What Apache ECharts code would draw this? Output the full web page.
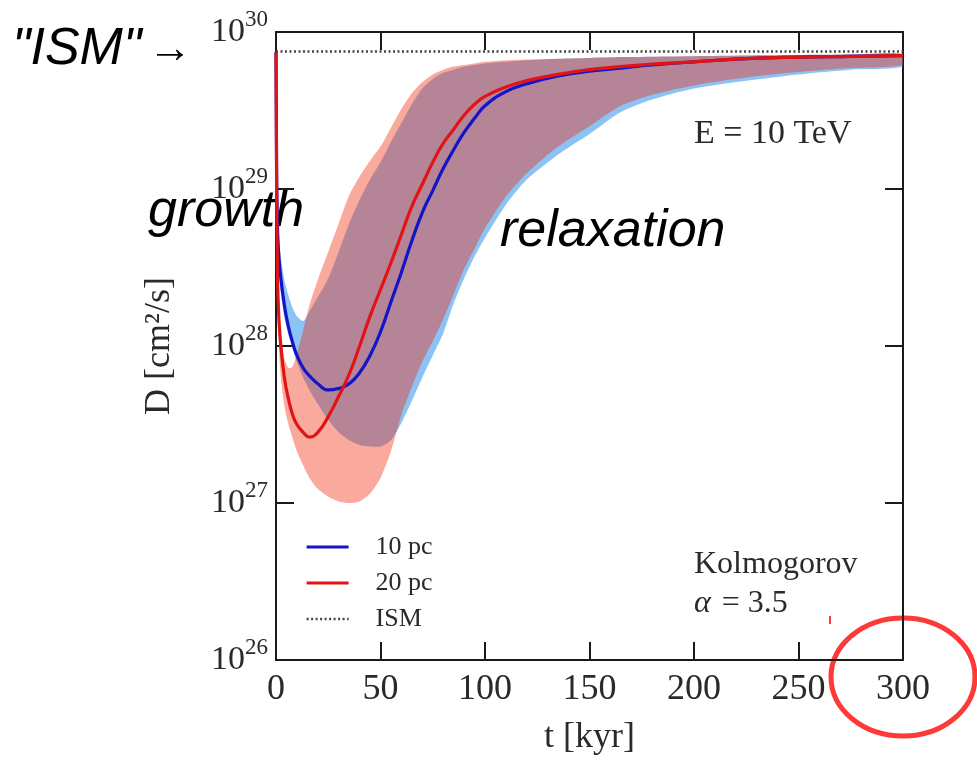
<!DOCTYPE html>
<html>
<head>
<meta charset="utf-8">
<title>Diffusion coefficient evolution</title>
<script src="https://cdn.jsdelivr.net/npm/echarts/dist/echarts.min.js"></script>
<style>
  html, body { margin: 0; padding: 0; background: #ffffff; }
  #chart { width: 977px; height: 766px; }
</style>
</head>
<body>
<div id="chart"></div>
<script>
// Time grid in kyr shared by every curve below
const tKyr = [0, 0.3, 0.6, 1, 2, 4, 6, 8, 10, 13, 16, 20, 25, 30, 35, 40, 45, 50, 55, 60, 65, 70, 75, 80, 85, 90, 95, 100, 110, 120, 135, 150, 165, 180, 200, 225, 250, 275, 300];

// log10 of D [cm^2/s] for the 10 pc case
const logD10pc = [29.87, 29.10, 28.85, 28.65, 28.47, 28.26, 28.12, 28.02, 27.94, 27.86, 27.81, 27.76, 27.72, 27.73, 27.76, 27.83, 27.94, 28.09, 28.28, 28.47, 28.67, 28.85, 28.99, 29.13, 29.25, 29.36, 29.45, 29.53, 29.62, 29.67, 29.72, 29.75, 29.77, 29.79, 29.81, 29.83, 29.84, 29.845, 29.85];
const band10pcUpper = [29.87, 29.20, 29.00, 28.80, 28.60, 28.42, 28.32, 28.24, 28.19, 28.16, 28.22, 28.31, 28.43, 28.60, 28.78, 28.93, 29.06, 29.17, 29.30, 29.42, 29.54, 29.64, 29.70, 29.74, 29.76, 29.78, 29.79, 29.80, 29.81, 29.82, 29.83, 29.835, 29.84, 29.843, 29.846, 29.85, 29.853, 29.856, 29.86];
const band10pcLower = [29.85, 29.00, 28.75, 28.55, 28.38, 28.18, 28.07, 27.98, 27.90, 27.80, 27.72, 27.63, 27.53, 27.45, 27.40, 27.37, 27.36, 27.36, 27.40, 27.51, 27.65, 27.80, 27.94, 28.08, 28.27, 28.43, 28.57, 28.69, 28.90, 29.06, 29.22, 29.35, 29.49, 29.57, 29.64, 29.69, 29.73, 29.76, 29.78];

// log10 of D [cm^2/s] for the 20 pc case
const logD20pc = [29.87, 29.00, 28.60, 28.30, 28.05, 27.80, 27.66, 27.56, 27.50, 27.45, 27.42, 27.45, 27.55, 27.68, 27.82, 28.00, 28.19, 28.36, 28.53, 28.71, 28.89, 29.03, 29.17, 29.29, 29.38, 29.47, 29.54, 29.59, 29.65, 29.69, 29.73, 29.76, 29.78, 29.795, 29.81, 29.83, 29.84, 29.845, 29.85];
const band20pcUpper = [29.87, 29.05, 28.70, 28.40, 28.12, 27.92, 27.86, 27.87, 27.95, 28.10, 28.26, 28.42, 28.60, 28.78, 28.96, 29.08, 29.18, 29.27, 29.39, 29.51, 29.61, 29.68, 29.73, 29.76, 29.78, 29.79, 29.80, 29.81, 29.82, 29.825, 29.83, 29.835, 29.84, 29.843, 29.846, 29.85, 29.853, 29.856, 29.86];
const band20pcLower = [29.85, 28.90, 28.45, 28.15, 27.85, 27.62, 27.50, 27.41, 27.33, 27.24, 27.16, 27.09, 27.04, 27.01, 27.00, 27.01, 27.06, 27.16, 27.33, 27.56, 27.74, 27.90, 28.03, 28.17, 28.33, 28.49, 28.62, 28.75, 28.95, 29.10, 29.27, 29.40, 29.53, 29.60, 29.66, 29.71, 29.745, 29.77, 29.79];

// Galactic (ISM) reference level
const ismT = [0, 300];
const ismD = [7.5e29, 7.5e29];

// Axis ticks
const xTicks = [0, 50, 100, 150, 200, 250, 300];
const yDecades = [26, 27, 28, 29, 30];

const SERIF = "'Liberation Serif', 'DejaVu Serif', serif";
const SANS = "'Liberation Sans', Arial, sans-serif";
const AXIS_COLOR = '#1a1a1a';
const TEXT_COLOR = '#2a2a2a';

const toD = (v) => Math.pow(10, v);

function linePoints(logs) {
  return tKyr.map((t, i) => [t, toD(logs[i])]);
}

function bandData(lower, upper) {
  return tKyr.map((t, i) => [t, toD(lower[i]), toD(upper[i])]);
}

// Closed outline through the upper edge and back along the lower edge
function bandRenderer(fill) {
  return function (params, api) {
    if (params.dataIndex !== 0) return null;
    const n = tKyr.length;
    const top = [];
    const bottom = [];
    for (let i = 0; i < n; i++) {
      top.push(api.coord([api.value(0, i), api.value(2, i)]));
      bottom.push(api.coord([api.value(0, i), api.value(1, i)]));
    }
    const points = top.concat(bottom.reverse());
    return {
      type: 'polygon',
      shape: { points: points, smooth: 0.25 },
      style: { fill: fill, stroke: null }
    };
  };
}

const chart = echarts.init(document.getElementById('chart'), null, { renderer: 'canvas' });

const axisLine = { show: true, onZero: false, lineStyle: { color: AXIS_COLOR, width: 2 } };
const axisTick = { show: true, inside: true, length: 18, lineStyle: { color: AXIS_COLOR, width: 2 } };

const option = {
  animation: false,
  backgroundColor: '#ffffff',
  grid: { left: 276, top: 32, width: 627, height: 628, containLabel: false },
  xAxis: [
    {
      type: 'value', min: xTicks[0], max: xTicks[xTicks.length - 1], interval: 50, position: 'bottom',
      axisLine: axisLine, axisTick: axisTick, splitLine: { show: false },
      axisLabel: { margin: 12, fontFamily: SERIF, fontSize: 36, color: TEXT_COLOR },
      name: 't [kyr]', nameLocation: 'middle', nameGap: 60,
      nameTextStyle: { fontFamily: SERIF, fontSize: 36, color: TEXT_COLOR }
    },
    {
      type: 'value', min: xTicks[0], max: xTicks[xTicks.length - 1], interval: 50, position: 'top',
      axisLine: axisLine, axisTick: axisTick, splitLine: { show: false }, axisLabel: { show: false }
    }
  ],
  yAxis: [
    {
      type: 'log', logBase: 10, min: toD(yDecades[0]), max: toD(yDecades[yDecades.length - 1]), splitNumber: 4,
      position: 'left', axisLine: axisLine, axisTick: axisTick, splitLine: { show: false },
      minorTick: { show: false },
      axisLabel: {
        margin: 8,
        formatter: (v) => '{b|10}{s|' + Math.round(Math.log10(v)) + '}',
        rich: {
          b: { fontFamily: SERIF, fontSize: 34, lineHeight: 34, color: TEXT_COLOR, verticalAlign: 'bottom' },
          s: { fontFamily: SERIF, fontSize: 23, lineHeight: 23, color: TEXT_COLOR, verticalAlign: 'bottom', padding: [0, 0, 18, 0] }
        }
      },
      name: 'D [cm²/s]', nameLocation: 'middle', nameRotate: 90, nameGap: 98,
      nameTextStyle: { fontFamily: SERIF, fontSize: 36, color: TEXT_COLOR }
    },
    {
      type: 'log', logBase: 10, min: toD(yDecades[0]), max: toD(yDecades[yDecades.length - 1]), splitNumber: 4,
      position: 'right', axisLine: axisLine, axisTick: axisTick, splitLine: { show: false },
      minorTick: { show: false }, axisLabel: { show: false }
    }
  ],
  legend: {
    data: [
      { name: '10 pc', lineStyle: { width: 3.2 } },
      { name: '20 pc', lineStyle: { width: 3.2 } },
      { name: 'ISM', lineStyle: { width: 2.5 } }
    ],
    orient: 'vertical', left: 300, top: 529, itemWidth: 42, itemHeight: 14, itemGap: 10,
    itemStyle: { opacity: 0, borderWidth: 0 },
    textStyle: { fontFamily: SERIF, fontSize: 26, color: TEXT_COLOR, padding: [0, 0, 0, 22] },
    selectedMode: false
  },
  series: [
    {
      type: 'custom', xAxisIndex: 0, yAxisIndex: 0, z: 1, silent: true, clip: true,
      renderItem: bandRenderer('rgba(25, 135, 235, 0.5)'),
      encode: { x: 0, y: [1, 2] },
      data: bandData(band10pcLower, band10pcUpper)
    },
    {
      type: 'custom', xAxisIndex: 0, yAxisIndex: 0, z: 1, silent: true, clip: true,
      renderItem: bandRenderer('rgba(242, 40, 10, 0.4)'),
      encode: { x: 0, y: [1, 2] },
      data: bandData(band20pcLower, band20pcUpper)
    },
    {
      name: 'ISM', type: 'line', xAxisIndex: 0, yAxisIndex: 0, z: 3,
      showSymbol: false, symbol: 'none',
      lineStyle: { color: '#444', width: 2.5, type: [2, 2.5] },
      itemStyle: { color: '#444' },
      data: ismT.map((t, i) => [t, ismD[i]])
    },
    {
      name: '10 pc', type: 'line', xAxisIndex: 0, yAxisIndex: 0, z: 4,
      showSymbol: false, symbol: 'none', smooth: 0.5,
      lineStyle: { color: '#1414c8', width: 3.2 },
      itemStyle: { color: '#1414c8' },
      data: linePoints(logD10pc)
    },
    {
      name: '20 pc', type: 'line', xAxisIndex: 0, yAxisIndex: 0, z: 5,
      showSymbol: false, symbol: 'none', smooth: 0.5,
      lineStyle: { color: '#e01414', width: 3.2 },
      itemStyle: { color: '#e01414' },
      data: linePoints(logD20pc)
    }
  ],
  graphic: [
    { type: 'text', left: 12, top: 24, style: { text: '"ISM"', font: 'italic 52px ' + SANS, fill: '#000' } },
    { type: 'text', left: 148, top: 28, style: { text: '→', font: '44px ' + SANS, fill: '#000' } },
    { type: 'text', left: 148, top: 186, style: { text: 'growth', font: 'italic 52px ' + SANS, fill: '#000' } },
    { type: 'text', left: 500, top: 206, style: { text: 'relaxation', font: 'italic 52px ' + SANS, fill: '#000' } },
    { type: 'text', left: 694, top: 117, style: { text: 'E = 10 TeV', font: '34px ' + SERIF, fill: TEXT_COLOR } },
    { type: 'text', left: 694, top: 549, style: { text: 'Kolmogorov', font: '32px ' + SERIF, fill: TEXT_COLOR } },
    {
      type: 'text', left: 694, top: 588,
      style: {
        text: '{a|α} = 3.5',
        font: '32px ' + SERIF, fill: TEXT_COLOR,
        rich: { a: { fontFamily: SERIF, fontSize: 32, fontStyle: 'italic', fill: TEXT_COLOR, padding: [0, 3, 0, 0] } }
      }
    },
    { type: 'ellipse', shape: { cx: 903, cy: 677, rx: 72, ry: 59 }, style: { fill: 'none', stroke: '#ff3838', lineWidth: 5 } },
    { type: 'line', shape: { x1: 830, y1: 616, x2: 830, y2: 624 }, style: { stroke: '#ff3838', lineWidth: 2 } }
  ]
};

chart.setOption(option);
</script>
</body>
</html>
